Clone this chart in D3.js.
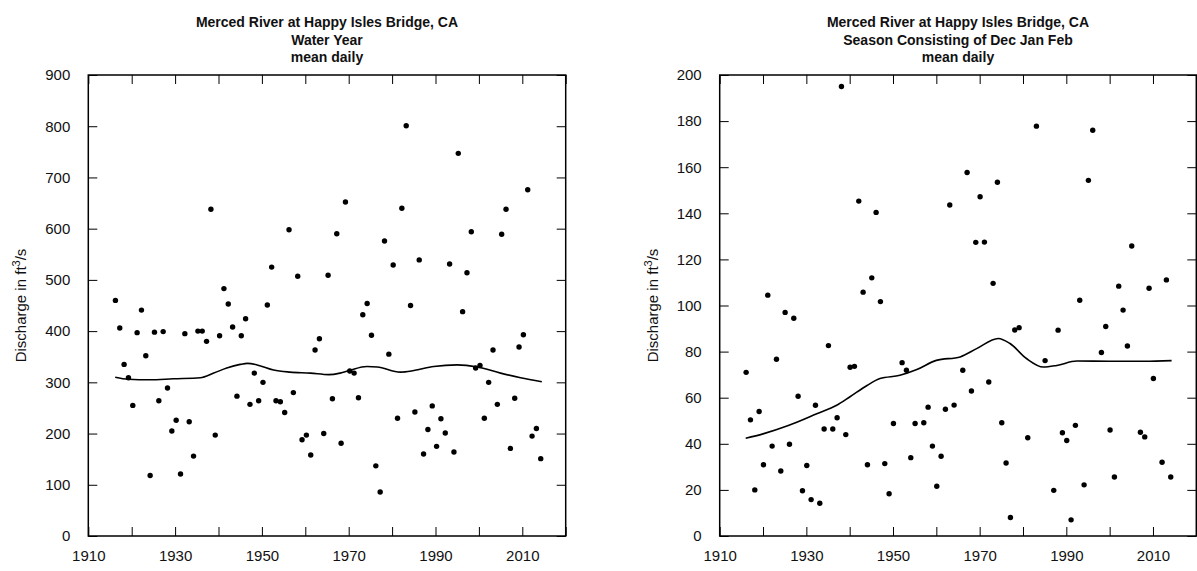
<!DOCTYPE html>
<html>
<head>
<meta charset="utf-8">
<script src="https://cdn.jsdelivr.net/npm/d3@7"></script>
<style>
  body { margin: 0; background: #fff; }
  svg { display: block; font-family: "Liberation Sans", Arial, sans-serif; }
</style>
</head>
<body>
<div id="vis"></div>
<script>
// Data ---------------------------------------------------------------------------------------------------------------
const siteName = "Merced River at Happy Isles Bridge, CA";

const wyYears = [1916, 1917, 1918, 1919, 1920, 1921, 1922, 1923, 1924, 1925, 1926, 1927, 1928, 1929, 1930, 1931,
  1932, 1933, 1934, 1935, 1936, 1937, 1938, 1939, 1940, 1941, 1942, 1943, 1944, 1945, 1946, 1947, 1948, 1949, 1950,
  1951, 1952, 1953, 1954, 1955, 1956, 1957, 1958, 1959, 1960, 1961, 1962, 1963, 1964, 1965, 1966, 1967, 1968, 1969,
  1970, 1971, 1972, 1973, 1974, 1975, 1976, 1977, 1978, 1979, 1980, 1981, 1982, 1983, 1984, 1985, 1986, 1987, 1988,
  1989, 1990, 1991, 1992, 1993, 1994, 1995, 1996, 1997, 1998, 1999, 2000, 2001, 2002, 2003, 2004, 2005, 2006, 2007,
  2008, 2009, 2010, 2011, 2012, 2013, 2014];
const wyFlow = [460, 406, 335, 309, 255, 397, 441, 352, 118, 398, 264, 399, 289, 205, 226, 121,
  395, 223, 156, 400, 400, 380, 638, 197, 391, 483, 453, 408, 273, 391, 424, 257, 318, 264, 300,
  451, 525, 264, 262, 241, 598, 280, 507, 188, 197, 158, 363, 385, 200, 509, 268, 590, 181, 652,
  322, 318, 270, 432, 454, 392, 137, 86, 576, 355, 529, 230, 640, 801, 450, 242, 539, 160, 208,
  254, 175, 229, 201, 531, 164, 747, 438, 514, 594, 328, 333, 230, 300, 363, 257, 589, 638, 171,
  269, 369, 393, 676, 195, 210, 151];

const wySmoothYears = [1916.2, 1919.2, 1924.2, 1929.6, 1935.8, 1938.9, 1941.9, 1945, 1946.7, 1948.9, 1952.7, 1956.5,
  1961.2, 1965.4, 1968, 1970.4, 1974.2, 1976.6, 1981.9, 1985, 1989.6, 1995, 1999.6, 2005, 2009.6, 2014.5];
const wySmooth = [310, 306, 305, 307, 309, 318, 328, 335, 337, 334, 324, 320,
  318, 315, 318, 324, 331, 330, 320, 323, 331, 334, 330, 318, 309, 301];

const djfYears = [1916, 1917, 1918, 1919, 1920, 1921, 1922, 1923, 1924, 1925, 1926, 1927, 1928, 1929, 1930, 1931,
  1932, 1933, 1934, 1935, 1936, 1937, 1938, 1939, 1940, 1941, 1942, 1943, 1944, 1945, 1946, 1947, 1948, 1949, 1950,
  1952, 1953, 1954, 1955, 1957, 1958, 1959, 1960, 1961, 1962, 1963, 1964, 1966, 1967, 1968, 1969, 1970, 1971, 1972,
  1973, 1974, 1975, 1976, 1977, 1978, 1979, 1981, 1983, 1985, 1987, 1988, 1989, 1990, 1991, 1992, 1993, 1994, 1995,
  1996, 1998, 1999, 2000, 2001, 2002, 2003, 2004, 2005, 2007, 2008, 2009, 2010, 2012, 2013, 2014];
const djfFlow = [71, 50.4, 20, 54, 30.9, 104.5, 39, 76.7, 28.2, 97, 39.8, 94.5, 60.6, 19.6, 30.6, 15.8,
  56.7, 14.2, 46.4, 82.6, 46.4, 51.3, 195, 44, 73.2, 73.6, 145.3, 105.8, 30.9, 112, 140.4, 101.7, 31.4, 18.3, 48.8,
  75.2, 71.9, 34, 48.8, 49.1, 55.9, 39, 21.6, 34.6, 55, 143.6, 56.8, 71.9, 157.7, 62.9, 127.4, 147.2, 127.5, 66.8,
  109.6, 153.5, 49.1, 31.7, 8, 89.4, 90.4, 42.6, 177.8, 76.1, 19.8, 89.3, 44.8, 41.4, 7, 48, 102.3, 22.2, 154.3,
  176, 79.6, 90.9, 46, 25.6, 108.4, 98, 82.4, 125.8, 45, 43, 107.5, 68.3, 32, 111.1, 25.6];

const djfSmoothYears = [1916, 1920, 1926, 1932.4, 1937, 1940, 1944, 1947, 1951.6, 1955.5, 1960, 1965.5, 1969.3,
  1974.3, 1977, 1980.8, 1984.7, 1987.8, 1992.4, 2000, 2008, 2014.3];
const djfSmooth = [42.4, 44.3, 48, 53, 56.7, 60.3, 65.3, 68.3, 69.7, 72.2, 76.2, 77.7, 81.3,
  85.7, 83.5, 77, 73.3, 74, 75.9, 75.8, 75.8, 76.1];

const xTicks = [1910, 1920, 1930, 1940, 1950, 1960, 1970, 1980, 1990, 2000, 2010, 2020];
const xLabels = [1910, 1930, 1950, 1970, 1990, 2010];
const wyTicks = [0, 100, 200, 300, 400, 500, 600, 700, 800, 900];
const djfTicks = [0, 20, 40, 60, 80, 100, 120, 140, 160, 180, 200];

// Canvas -------------------------------------------------------------------------------------------------------------
const canvasWidth = 1197;
const canvasHeight = 571;
const plotTop = 75;
const plotBottom = 536;
const tickLength = 9;

const svg = d3.select("#vis")
  .append("svg")
  .attr("width", canvasWidth)
  .attr("height", canvasHeight);

function drawPanel(opts) {
  const g = svg.append("g");

  const xScale = d3.scaleLinear()
    .domain([1910, 2020])
    .range([opts.left, opts.right]);
  const yScale = d3.scaleLinear()
    .domain([0, d3.max(opts.yTicks)])
    .range([plotBottom, plotTop]);

  // axes, ticks all pointing inward
  const bottomAxis = g.append("g")
    .attr("transform", "translate(0," + plotBottom + ")")
    .call(d3.axisBottom(xScale).tickValues(xTicks).tickSize(-tickLength).tickPadding(14)
      .tickFormat(d => xLabels.includes(d) ? d : ""));
  const topAxis = g.append("g")
    .attr("transform", "translate(0," + plotTop + ")")
    .call(d3.axisTop(xScale).tickValues(xTicks).tickSize(-tickLength).tickFormat(""));
  const leftAxis = g.append("g")
    .attr("transform", "translate(" + opts.left + ",0)")
    .call(d3.axisLeft(yScale).tickValues(opts.yTicks).tickSize(-tickLength).tickPadding(18));
  const rightAxis = g.append("g")
    .attr("transform", "translate(" + opts.right + ",0)")
    .call(d3.axisRight(yScale).tickValues(opts.yTicks).tickSize(-tickLength).tickFormat(""));

  [bottomAxis, topAxis, leftAxis, rightAxis].forEach(function(ax) {
    ax.select(".domain").remove();
    ax.selectAll("line").attr("stroke", "#000").attr("stroke-width", 1);
    ax.selectAll("text")
      .attr("fill", "#111")
      .style("font-size", "15px")
      .style("font-family", "'Liberation Sans', Arial, sans-serif");
  });

  // frame
  g.append("rect")
    .attr("x", opts.left)
    .attr("y", plotTop)
    .attr("width", opts.right - opts.left)
    .attr("height", plotBottom - plotTop)
    .attr("fill", "none")
    .attr("stroke", "#000")
    .attr("stroke-width", 1.5);

  // smooth curve
  const line = d3.line()
    .x(d => xScale(d[0]))
    .y(d => yScale(d[1]))
    .curve(d3.curveMonotoneX);
  g.append("path")
    .datum(d3.zip(opts.smoothYears, opts.smooth))
    .attr("d", line)
    .attr("fill", "none")
    .attr("stroke", "#000")
    .attr("stroke-width", 1.6);

  // points
  g.append("g")
    .selectAll("circle")
    .data(d3.zip(opts.years, opts.values))
    .enter()
    .append("circle")
    .attr("cx", d => xScale(d[0] + opts.yearOffset))
    .attr("cy", d => yScale(d[1]))
    .attr("r", 2.7)
    .attr("fill", "#000");

  // titles
  const cx = (opts.left + opts.right) / 2;
  const titleLines = [siteName, opts.subtitle, "mean daily"];
  g.selectAll(".title")
    .data(titleLines)
    .enter()
    .append("text")
    .attr("class", "title")
    .attr("x", cx)
    .attr("y", (d, i) => 27 + i * 17.5)
    .attr("text-anchor", "middle")
    .style("font-size", "14px")
    .style("font-weight", "bold")
    .attr("fill", "#111")
    .text(d => d);

  // y axis label
  const yLabel = g.append("text")
    .attr("transform", "translate(" + (opts.left - 62) + "," + ((plotTop + plotBottom) / 2) + ") rotate(-90)")
    .attr("text-anchor", "middle")
    .style("font-size", "15px")
    .attr("fill", "#111");
  yLabel.append("tspan").text("Discharge in ft");
  yLabel.append("tspan").text("3").attr("dy", -6).style("font-size", "11px");
  yLabel.append("tspan").text("/s").attr("dy", 6);
}

drawPanel({
  left: 88.3, right: 565.7,
  yTicks: wyTicks,
  years: wyYears, values: wyFlow, yearOffset: 0.25,
  smoothYears: wySmoothYears, smooth: wySmooth,
  subtitle: "Water Year"
});

drawPanel({
  left: 719.7, right: 1196.3,
  yTicks: djfTicks,
  years: djfYears, values: djfFlow, yearOffset: 0.1,
  smoothYears: djfSmoothYears, smooth: djfSmooth,
  subtitle: "Season Consisting of Dec Jan Feb"
});
</script>
</body>
</html>
